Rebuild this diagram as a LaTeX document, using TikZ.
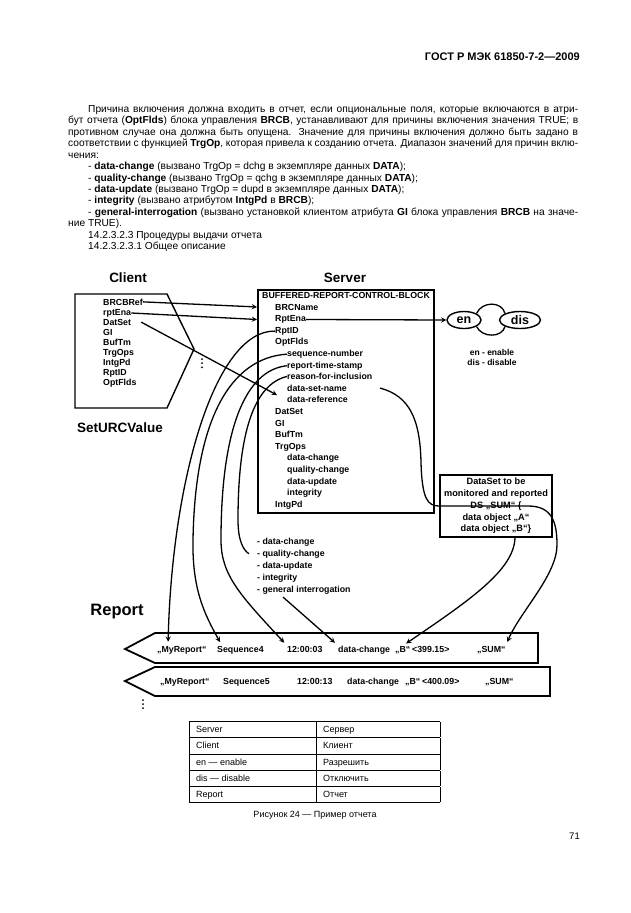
\documentclass[tikz,border=0pt]{standalone}
\usepackage{fontspec}
\setmainfont{Liberation Sans}
\usetikzlibrary{shapes.geometric,arrows}

% строка, растянутая на заданную ширину (выключка по формату)
\newcommand{\justln}[2]{\makebox[#1pt][s]{#2}}

\begin{document}
\begin{tikzpicture}[x=1pt, y=-1pt,
    txt/.style={anchor=base west, inner sep=0pt, font=\fontsize{10.2}{12}\selectfont},
    itm/.style={anchor=base west, inner sep=0pt, font=\fontsize{8.8}{10}\selectfont\bfseries},
    ttl/.style={inner sep=0pt, font=\fontsize{13.5}{15}\selectfont\bfseries},
    rep/.style={anchor=base west, inner sep=0pt, font=\fontsize{8.8}{10}\selectfont\bfseries},
    frm/.style={draw, line width=1.8pt},
    lnk/.style={line width=1.3pt},
    arr/.style={->, >=stealth, line width=1.3pt},
    arrin/.style={arr, shorten >=4pt}]

    % Поле страницы
    \useasboundingbox (0,0) rectangle (630,913);
    \fill[white] (0,0) rectangle (630,913);

    % Колонтитул
    \node[anchor=base east, inner sep=0pt, font=\fontsize{11}{12}\selectfont\bfseries] (hdr) at (580,60) {ГОСТ Р МЭК 61850-7-2—2009};

    % Текст перед рисунком
    \node[txt] (p0) at (88,112.5) {\justln{490}{Причина включения должна входить в отчет, если опциональные поля, которые включаются в атри-}};
    \node[txt] (p1) at (68,123.9) {\justln{510}{бут отчета (\textbf{OptFlds}) блока управления \textbf{BRCB}, устанавливают для причины включения значения TRUE; в}};
    \node[txt] (p2) at (68,135.3) {\justln{510}{противном случае она должна быть опущена. Значение для причины включения должно быть задано в}};
    \node[txt] (p3) at (68,146.8) {\justln{510}{соответствии с функцией \textbf{TrgOp}, которая привела к созданию отчета. Диапазон значений для причин вклю-}};
    \node[txt] (p4) at (68,158.2) {чения:};
    \node[txt] (p5) at (88,169.6) {- \textbf{data-change} (вызвано TrgOp = dchg в экземпляре данных \textbf{DATA});};
    \node[txt] (p6) at (88,181.0) {- \textbf{quality-change} (вызвано TrgOp = qchg в экземпляре данных \textbf{DATA});};
    \node[txt] (p7) at (88,192.4) {- \textbf{data-update} (вызвано TrgOp = dupd в экземпляре данных \textbf{DATA});};
    \node[txt] (p8) at (88,203.9) {- \textbf{integrity} (вызвано атрибутом \textbf{IntgPd} в \textbf{BRCB});};
    \node[txt] (p9) at (88,215.3) {\justln{490}{- \textbf{general-interrogation} (вызвано установкой клиентом атрибута \textbf{GI} блока управления \textbf{BRCB} на значе-}};
    \node[txt] (p10) at (68,226.7) {ние TRUE).};
    \node[txt] (p11) at (88,238.1) {14.2.3.2.3 Процедуры выдачи отчета};
    \node[txt] (p12) at (88,249.5) {14.2.3.2.3.1 Общее описание};

    % Заголовки
    \node[ttl] (client) at (128,278) {Client};
    \node[ttl] (server) at (345,278) {Server};
    \node[ttl] (seturc) at (120,428) {SetURCValue};
    \node[ttl, font=\fontsize{16.5}{18}\selectfont\bfseries] (report) at (117,612) {Report};

    % Клиент
    \draw[line width=1.4pt] (75,294) -- (167,294) -- (194,349) -- (167,408) -- (75,408) -- cycle;
    \foreach \nm/\tx [count=\i from 0] in {brcbref/BRCBRef, rptena/rptEna, datset/DatSet, gi/GI, buftm/BufTm,
        trgops/TrgOps, intgpd/IntgPd, rptid/RptID, optf/OptFlds}
        \node[itm] (c-\nm) at (103, 305+10.1*\i) {\tx};
    \foreach \k in {0,1,2}
        \fill (202,359+4.2*\k) circle (1pt);

    % Сервер
    \node[frm, anchor=north west, minimum width=176pt, minimum height=223pt, inner sep=0pt] (srvbox) at (257,289) {};
    \node[itm] (s-title) at (262,298) {BUFFERED-REPORT-CONTROL-BLOCK};
    \foreach \nm/\tx/\dx [count=\i from 0] in {name/BRCName/0, ena/RptEna/0, rptid/RptID/0, optf/OptFlds/0,
        seq/sequence-number/12, rts/report-time-stamp/12, rfi/reason-for-inclusion/12,
        dsn/data-set-name/12, dref/data-reference/12, datset/DatSet/0, gi/GI/0, buftm/BufTm/0,
        trgops/TrgOps/0, dchg/data-change/12, qchg/quality-change/12, dupd/data-update/12,
        integ/integrity/12, intgpd/IntgPd/0}
        \node[itm] (s-\nm) at (275+\dx, 310+11.6*\i) {\tx};

    % en / dis
    \node[ellipse, draw, line width=1.4pt, minimum width=34pt, minimum height=17pt, inner sep=0pt,
        font=\fontsize{12.5}{14}\selectfont\bfseries] (en) at (464,320) {en};
    \node[ellipse, draw, line width=1.4pt, minimum width=41pt, minimum height=17pt, inner sep=0pt,
        font=\fontsize{12.5}{14}\selectfont\bfseries] (dis) at (520,320) {dis};
    \draw[lnk] (en.north east) .. controls (482,301) and (502,301) .. (dis.north west);
    \draw[lnk] (en.south east) .. controls (482,338) and (502,338) .. (dis.south west);
    \node[align=center, inner sep=0pt, font=\fontsize{8.5}{10}\selectfont\bfseries] (enleg) at (492,357) {en - enable\\dis - disable};

    % Набор данных
    \node[frm, line width=1.6pt, align=center, minimum width=112pt, minimum height=62pt, inner sep=1pt,
        font=\fontsize{9.2}{11.7}\selectfont\bfseries] (dsbox) at (496,506)
        {DataSet to be\\monitored and reported\\DS „SUM“ \{\\data object „A“\\data object „B“\}};

    % Список причин включения
    \foreach \nm/\tx [count=\i from 0] in {dchg/data-change, qchg/quality-change, dupd/data-update,
        integ/integrity, gi/general interrogation}
        \node[itm] (l-\nm) at (257, 544+12*\i) {- \tx};

    % Отчеты
    \draw[frm] (125,649) -- (155,633) -- (538,633) -- (538,663) -- (155,663) -- cycle;
    \draw[frm] (125,681) -- (155,667) -- (550,667) -- (550,696) -- (155,696) -- cycle;
    \node[rep] (r1-myrep) at (157,652) {„MyReport“};
    \node[rep] (r1-seq) at (217,652) {Sequence4};
    \node[rep] (r1-time) at (287,652) {12:00:03};
    \node[rep] (r1-dc) at (338,652) {data-change};
    \node[rep] (r1-b) at (395,652) {„B“};
    \node[rep] (r1-val) at (412,652) {<399.15>};
    \node[rep] (r1-sum) at (477,652) {„SUM“};
    \node[rep] (r2-myrep) at (160,684) {„MyReport“};
    \node[rep] (r2-seq) at (223,684) {Sequence5};
    \node[rep] (r2-time) at (297,684) {12:00:13};
    \node[rep] (r2-dc) at (347,684) {data-change};
    \node[rep] (r2-b) at (405,684) {„B“};
    \node[rep] (r2-val) at (422,684) {<400.09>};
    \node[rep] (r2-sum) at (485,684) {„SUM“};
    \foreach \k in {0,1,2}
        \fill (143,700+4*\k) circle (1pt);

    % Связи клиента с сервером
    \draw[arr] (c-brcbref.east) -- (srvbox.west |- s-name.west);
    \draw[arr] (c-rptena.east) -- (srvbox.west |- s-ena.west);
    \draw[arr] ([xshift=10pt]c-datset.east) -- ([xshift=-10pt,yshift=-7pt]s-dsn.west);
    \draw[arr] (s-ena.east) -- (en.west);

    % Поля отчета
    \draw[arrin] (s-rptid.west) .. controls (215,330) and (172,480) .. ([xshift=11pt]r1-myrep.north west);
    \draw[arrin] (s-seq.west) .. controls (230,358) and (195,420) .. (193,540)
        .. controls (192,590) and (205,615) .. ([xshift=5pt]r1-seq.north west);
    \draw[arrin] (s-rts.west) .. controls (245,370) and (221,430) .. (221,540)
        .. controls (221,575) and (240,595) .. (r1-time.north west);
    \draw[lnk] (s-rfi.west) .. controls (255,384) and (238,430) .. (238,520)
        .. controls (238,540) and (243,550) .. ([xshift=-8pt]l-qchg.west);
    \draw[arrin] ([xshift=26pt,yshift=-3pt]l-gi.south west) -- (r1-dc.north west);

    % Набор данных -> отчет
    \draw[arrin] ([xshift=33pt]s-dsn.east) .. controls +(30,8) and (420,420) .. (421,462)
        .. controls (422,500) and (428,506) .. (dsbox.west) -- (528,506)
        .. controls (552,506) and (557,522) .. (557,545)
        .. controls (557,575) and (520,612) .. (r1-sum.north east);
    \draw[arrin] ([xshift=19pt]dsbox.south) .. controls (514,570) and (470,600) .. (r1-b.north);

    % Таблица
    \node[anchor=north west, inner sep=0pt, font=\fontsize{9}{11}\selectfont] (tbl) at (189,721) {%
        \setlength{\tabcolsep}{7pt}\setlength{\arrayrulewidth}{0.8pt}\renewcommand{\arraystretch}{1.4}%
        \begin{tabular}{|p{113pt}|p{110pt}|}
            \hline
            Server & Сервер\\ \hline
            Client & Клиент\\ \hline
            en — enable & Разрешить\\ \hline
            dis — disable & Отключить\\ \hline
            Report & Отчет\\ \hline
        \end{tabular}};
    \node[font=\fontsize{9}{11}\selectfont] (capt) at (315,815) {Рисунок 24 — Пример отчета};

    % Номер страницы
    \node[anchor=base east, inner sep=0pt, font=\fontsize{9.5}{11}\selectfont] (pgno) at (580,839) {71};
\end{tikzpicture}
\end{document}
